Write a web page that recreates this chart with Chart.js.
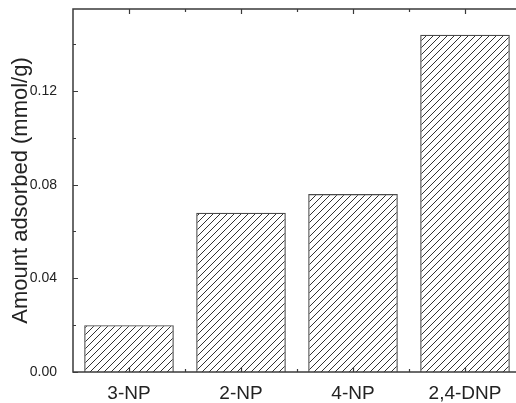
<!DOCTYPE html>
<html>
<head>
<meta charset="utf-8">
<script src="https://cdn.jsdelivr.net/npm/chart.js@4/dist/chart.umd.min.js"></script>
<style>
  html, body { margin: 0; padding: 0; background: #fff; overflow: hidden; }
  #wrap { width: 522px; height: 403px; }
</style>
</head>
<body>
<div id="wrap"><canvas id="chart" width="522" height="403"></canvas></div>
<script>
const categories = ['3-NP', '2-NP', '4-NP', '2,4-DNP'];
const adsorbed = [0.020, 0.068, 0.076, 0.144];
const majorTicks = [0, 0.04, 0.08, 0.12];
const minorTicks = [0.02, 0.06, 0.10, 0.14];
const yMax = 0.155;

const FONT = '"Liberation Sans", Arial, sans-serif';
const AXIS = '#3a3a3a';
const INK = '#222';

function hatch() {
    const c = document.createElement('canvas');
    c.width = 7; c.height = 7;
    const g = c.getContext('2d');
    g.strokeStyle = '#333';
    g.lineWidth = 1;
    g.beginPath();
    g.moveTo(-1, 8); g.lineTo(8, -1);
    g.moveTo(-1, 1); g.lineTo(1, -1);
    g.moveTo(6, 8); g.lineTo(8, 6);
    g.stroke();
    return g.createPattern(c, 'repeat');
}

// frame + inward ticks on all four sides, placed through the chart's scales
const frameTicks = {
    id: 'frameTicks',
    afterDatasetsDraw(chart) {
        const { ctx, chartArea: a, scales: { x, y } } = chart;
        ctx.save();
        ctx.strokeStyle = AXIS;
        ctx.lineWidth = 1.5;
        ctx.strokeRect(a.left, a.top, a.right - a.left, a.bottom - a.top);
        ctx.lineWidth = 1.2;
        ctx.beginPath();
        const yTick = (v, len) => {
            const p = Math.round(y.getPixelForValue(v)) + 0.5;
            ctx.moveTo(a.left, p); ctx.lineTo(a.left + len, p);
            ctx.moveTo(a.right, p); ctx.lineTo(a.right - len, p);
        };
        majorTicks.forEach(v => yTick(v, 5));
        minorTicks.forEach(v => yTick(v, 3));
        const xTick = (p, len) => {
            p = Math.round(p) + 0.5;
            ctx.moveTo(p, a.bottom); ctx.lineTo(p, a.bottom - len);
            ctx.moveTo(p, a.top); ctx.lineTo(p, a.top + len);
        };
        categories.forEach((c, i) => {
            const p = x.getPixelForValue(i);
            xTick(p, 5);
            if (i > 0) xTick((p + x.getPixelForValue(i - 1)) / 2, 3);
        });
        ctx.stroke();
        ctx.restore();
    },
};

new Chart(document.getElementById('chart'), {
    type: 'bar',
    data: {
        labels: categories,
        datasets: [{
            data: adsorbed,
            backgroundColor: hatch(),
            borderColor: '#4a4a4a',
            borderWidth: 1.2,
            barPercentage: 0.8,
            categoryPercentage: 1.0,
        }],
    },
    options: {
        responsive: false,
        animation: false,
        layout: { padding: { top: 9, right: 1, left: 0, bottom: 0 } },
        plugins: { legend: { display: false }, tooltip: { enabled: false } },
        scales: {
            x: {
                offset: true,
                grid: { display: false },
                border: { display: false },
                ticks: { color: INK, padding: 2, font: { family: FONT, size: 19 }, maxRotation: 0 },
                afterFit(s) { s.height = 31; },
            },
            y: {
                min: 0,
                max: yMax,
                grid: { display: false },
                border: { display: false },
                ticks: {
                    stepSize: 0.04,
                    includeBounds: false,
                    color: INK,
                    padding: 8,
                    font: { family: FONT, size: 14 },
                    callback: v => v.toFixed(2),
                },
                title: {
                    display: true,
                    text: 'Amount adsorbed (mmol/g)',
                    color: INK,
                    font: { family: FONT, size: 22 },
                    padding: { top: 8, bottom: 0 },
                },
                afterFit(s) { s.width = 73; s.paddingTop = 0; s.paddingBottom = 0; },
            },
        },
    },
    plugins: [frameTicks],
});
</script>
</body>
</html>
